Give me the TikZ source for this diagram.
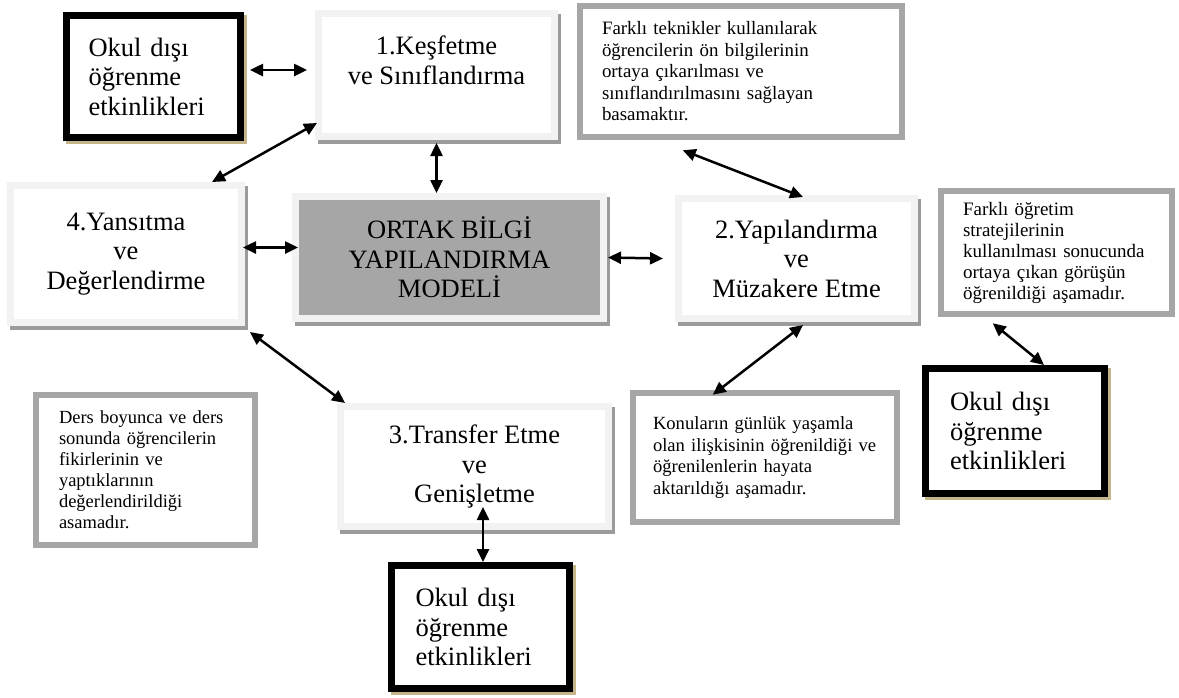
\documentclass[tikz,border=0pt]{standalone}
\usepackage{fontspec}
\setmainfont{Liberation Serif}
\usetikzlibrary{arrows.meta}
\definecolor{paleline}{RGB}{242,242,242}
\definecolor{shadegray}{RGB}{155,155,155}
\definecolor{boxgray}{RGB}{166,166,166}
\definecolor{tanshade}{RGB}{196,182,138}

\begin{document}
\begin{tikzpicture}[x=1pt, y=-1pt, >={Triangle[length=13pt,width=12pt]},
  stage node/.style={draw=paleline, line width=7pt, fill=white, align=center, inner sep=2pt,
    font=\fontsize{26.5}{29.5}\selectfont,
    preaction={draw=shadegray, line width=7pt, transform canvas={shift={(3pt,-4pt)}}}},
  core node/.style={stage node, fill=boxgray},
  okul node/.style={draw=black, line width=7pt, fill=white, align=left, text width=130pt, inner sep=2pt,
    font=\fontsize{26.5}{29.5}\selectfont,
    preaction={draw=tanshade, line width=7pt, transform canvas={shift={(3pt,-3pt)}}}},
  info node/.style={draw=boxgray, line width=6.5pt, fill=white, align=left, inner ysep=2pt},
  link/.style={<->, line width=2.5pt}]
\useasboundingbox (0,0) rectangle (1179,697);

% the four stages and the model
\node[stage node, minimum width=236pt, minimum height=123pt] (kesif) at (436.5,75) {1.Keşfetme\\ve Sınıflandırma\\\mbox{}};
\node[stage node, minimum width=231pt, minimum height=137pt] (yansit) at (126,254) {4.Yansıtma\\ve\\Değerlendirme};
\node[core node, minimum width=308pt, minimum height=122pt] (core) at (449.5,257.5) {ORTAK BİLGİ\\YAPILANDIRMA\\MODELİ};
\node[stage node, minimum width=236pt, minimum height=120pt] (yapi) at (796.5,258.5) {2.Yapılandırma\\ve\\Müzakere Etme};
\node[stage node, minimum width=268pt, minimum height=120pt] (transfer) at (474.5,466.5) {3.Transfer Etme\\ve\\Genişletme};

% out of school boxes
\node[okul node, minimum width=174pt, minimum height=122pt] (okul1) at (153.5,76.5) {Okul dışı\\öğrenme\\etkinlikleri};
\node[okul node, minimum width=179pt, minimum height=125pt] (okul2) at (1015,431) {Okul dışı\\öğrenme\\etkinlikleri};
\node[okul node, minimum width=178pt, minimum height=123pt] (okul3) at (480.5,627) {Okul dışı\\öğrenme\\etkinlikleri};

% explanations
\node[info node, minimum width=322pt, minimum height=131pt, inner xsep=22pt, text width=278pt,
  font=\fontsize{18.9}{21.5}\selectfont] (info1) at (741,71.5)
  {Farklı teknikler kullanılarak\\öğrencilerin ön bilgilerinin\\ortaya çıkarılması ve\\sınıflandırılmasını sağlayan\\basamaktır.};
\node[info node, minimum width=231pt, minimum height=123pt, inner xsep=22pt, text width=187pt,
  font=\fontsize{19}{21}\selectfont] (info2) at (1056.5,252.5)
  {Farklı öğretim\\stratejilerinin\\kullanılması sonucunda\\ortaya çıkan görüşün\\öğrenildiği aşamadır.};
\node[info node, minimum width=264pt, minimum height=129pt, inner xsep=20pt, text width=224pt,
  font=\fontsize{18.6}{21.7}\selectfont] (info3) at (765,457.5)
  {Konuların günlük yaşamla\\olan ilişkisinin öğrenildiği ve\\öğrenilenlerin hayata\\aktarıldığı aşamadır.};
\node[info node, minimum width=219pt, minimum height=150pt, inner xsep=23pt, text width=173pt,
  font=\fontsize{18.5}{21}\selectfont] (info4) at (145.5,470)
  {Ders boyunca ve ders\\sonunda öğrencilerin\\fikirlerinin ve\\yaptıklarının\\değerlendirildiği\\asamadır.};

\path[link]
([xshift=6pt,yshift=6.5pt]okul1.east) edge ([xshift=-8pt,yshift=5pt]kesif.west)
([xshift=2pt,yshift=17pt]kesif.south west) edge ([xshift=-33pt]yansit.north east)
([yshift=-3pt]kesif.south) edge (kesif.south |- core.north)
([xshift=106pt,yshift=-10pt]info1.south west) edge ([xshift=6.5pt,yshift=-2pt]yapi.north)
([xshift=-2pt,yshift=6.5pt]yansit.east) edge ([xshift=6pt,yshift=10pt]core.west)
([xshift=1pt]core.east) edge ([xshift=-12pt]yapi.west)
([xshift=5pt,yshift=-6pt]yansit.south east) edge ([xshift=8pt]transfer.north west)
([xshift=6.5pt,yshift=-3pt]yapi.south) edge ([xshift=83pt,yshift=-5pt]info3.north west)
([xshift=55pt,yshift=-6pt]info2.south west) edge ([xshift=29pt]okul2.north)
([xshift=8.5pt,yshift=23pt]transfer.south) edge ([xshift=2.5pt]okul3.north);
\end{tikzpicture}
\end{document}
